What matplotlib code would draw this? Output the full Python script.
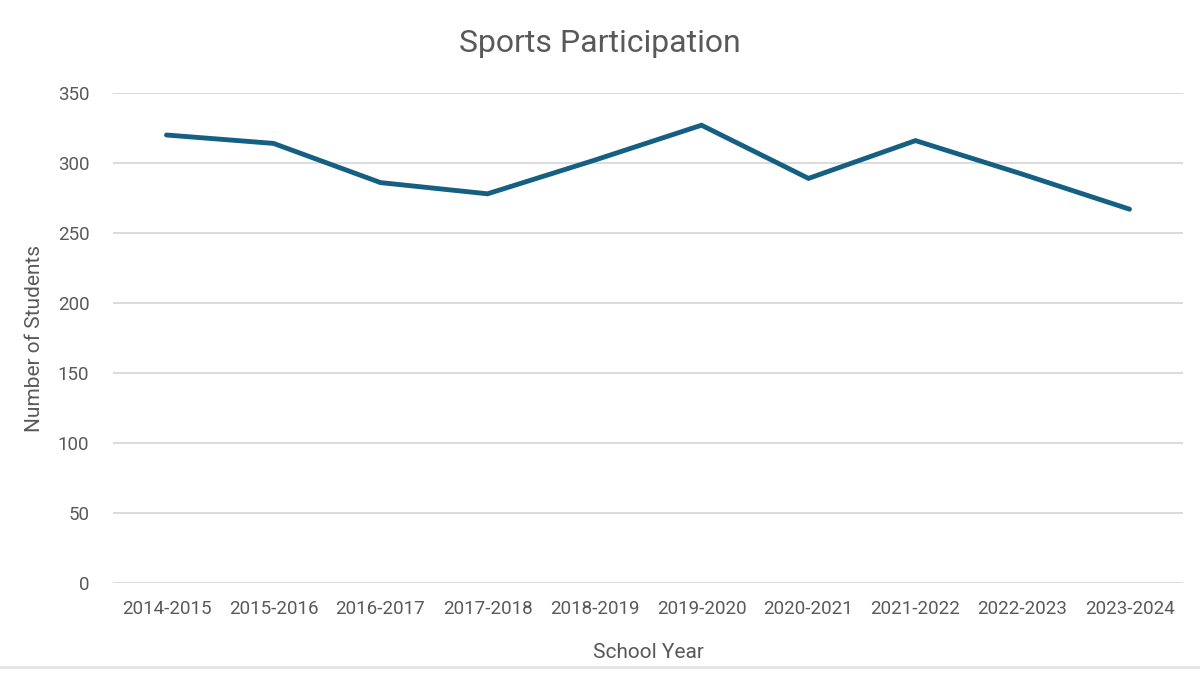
import matplotlib.pyplot as plt
from matplotlib.lines import Line2D

plt.rcParams['font.family'] = ['Roboto', 'DejaVu Sans']

years = ['2014-2015', '2015-2016', '2016-2017', '2017-2018', '2018-2019',
         '2019-2020', '2020-2021', '2021-2022', '2022-2023', '2023-2024']
students = [320, 314, 286, 278, 302, 327, 289, 316, 292, 267]
y_ticks = [0, 50, 100, 150, 200, 250, 300, 350]

text_col = '#595959'
grid_col = '#D9D9D9'
line_col = '#156082'

fig = plt.figure(figsize=(12, 6.85), dpi=100)
ax = fig.add_axes([113 / 1200, 1 - 583 / 685, 1070 / 1200, 490 / 685])

x = range(len(years))
ax.plot(x, students, color=line_col, linewidth=3.5, solid_capstyle='round', solid_joinstyle='miter', zorder=3)

ax.set_xlim(-0.5, len(years) - 0.5)
ax.set_ylim(0, 350)
ax.set_yticks(y_ticks)
ax.set_xticks(list(x))
ax.set_xticklabels(years)
ax.grid(axis='y', color=grid_col, linewidth=1.3)
ax.set_axisbelow(True)
for s in ax.spines.values():
    s.set_visible(False)
ax.tick_params(length=0, labelsize=13.5, colors=text_col)
ax.tick_params(axis='y', pad=17)
ax.tick_params(axis='x', pad=12)

ax.set_xlabel('School Year', fontsize=15, color=text_col, labelpad=18)
ax.set_ylabel('Number of Students', fontsize=15, color=text_col, labelpad=10)
fig.text(0.5, 1 - 43 / 685, 'Sports Participation', ha='center', va='center',
         fontsize=23, color=text_col)

# light border line at the bottom of the chart area
fig.add_artist(Line2D([0, 1], [1 - 667 / 685] * 2, color='#E3E3E3', linewidth=2,
                      transform=fig.transFigure))

fig.savefig('out.png', dpi=100, facecolor='white')
